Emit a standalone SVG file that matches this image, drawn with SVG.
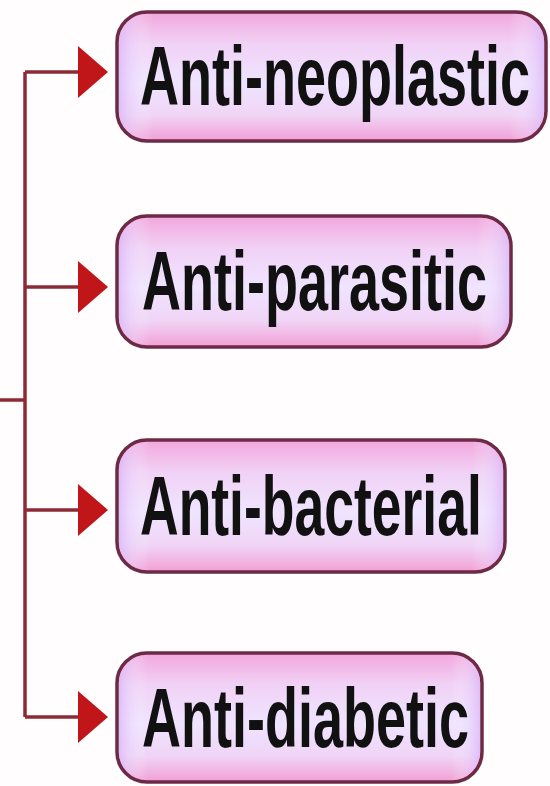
<svg xmlns="http://www.w3.org/2000/svg" width="550" height="786" viewBox="0 0 550 786">
<defs>
<linearGradient id="fillV" x1="0" y1="0" x2="0" y2="1">
<stop offset="0" stop-color="#f2a6dc"/>
<stop offset="0.25" stop-color="#f1d2f6"/>
<stop offset="0.55" stop-color="#efe4ff"/>
<stop offset="0.8" stop-color="#f0d4f6"/>
<stop offset="1" stop-color="#f29fd6"/>
</linearGradient>
<linearGradient id="fillH" x1="0" y1="0" x2="1" y2="0">
<stop offset="0" stop-color="#d9b4f8" stop-opacity="0.7"/>
<stop offset="0.08" stop-color="#ffffff" stop-opacity="0"/>
<stop offset="0.92" stop-color="#ffffff" stop-opacity="0"/>
<stop offset="1" stop-color="#d9b4f8" stop-opacity="0.7"/>
</linearGradient>
</defs>
<style>
.box{fill:url(#fillV);stroke:#6d2a45;stroke-width:3.5}
.boxh{fill:url(#fillH);stroke:none}
.lbl{font-family:"Liberation Sans",Arial,sans-serif;font-weight:bold;font-size:84px;fill:#111111}
.conn{stroke:#8c2a35;stroke-width:3.5;fill:none}
.head{fill:#c0161a}
</style>
<rect width="550" height="786" fill="#fffdfd"/>
<g id="connectors">
<path class="conn" d="M25,72 V717"/>
<path class="conn" d="M0,400 H25"/>
<path class="conn" d="M25,72 H80"/>
<path class="conn" d="M25,287 H80"/>
<path class="conn" d="M25,510 H80"/>
<path class="conn" d="M25,717 H80"/>
<polygon class="head" points="78,46 108,72 78,98"/>
<polygon class="head" points="78,261 108,287 78,313"/>
<polygon class="head" points="78,484 108,510 78,536"/>
<polygon class="head" points="78,691 108,717 78,743"/>
</g>
<g id="n1">
<rect class="box" x="117" y="12" width="429" height="129" rx="30"/>
<rect class="boxh" x="119" y="14" width="425" height="125" rx="28"/>
<text class="lbl" transform="translate(140,105) scale(0.643,1)">Anti-neoplastic</text>
</g>
<g id="n2">
<rect class="box" x="117" y="216" width="394" height="131" rx="30"/>
<rect class="boxh" x="119" y="218" width="390" height="127" rx="28"/>
<text class="lbl" transform="translate(142,310) scale(0.643,1)">Anti-parasitic</text>
</g>
<g id="n3">
<rect class="box" x="117" y="440" width="388" height="132" rx="30"/>
<rect class="boxh" x="119" y="442" width="384" height="128" rx="28"/>
<text class="lbl" transform="translate(140,535) scale(0.637,1)">Anti-bacterial</text>
</g>
<g id="n4">
<rect class="box" x="117" y="653" width="365" height="129" rx="30"/>
<rect class="boxh" x="119" y="655" width="361" height="125" rx="28"/>
<text class="lbl" transform="translate(142,747) scale(0.643,1)">Anti-diabetic</text>
</g>
</svg>
